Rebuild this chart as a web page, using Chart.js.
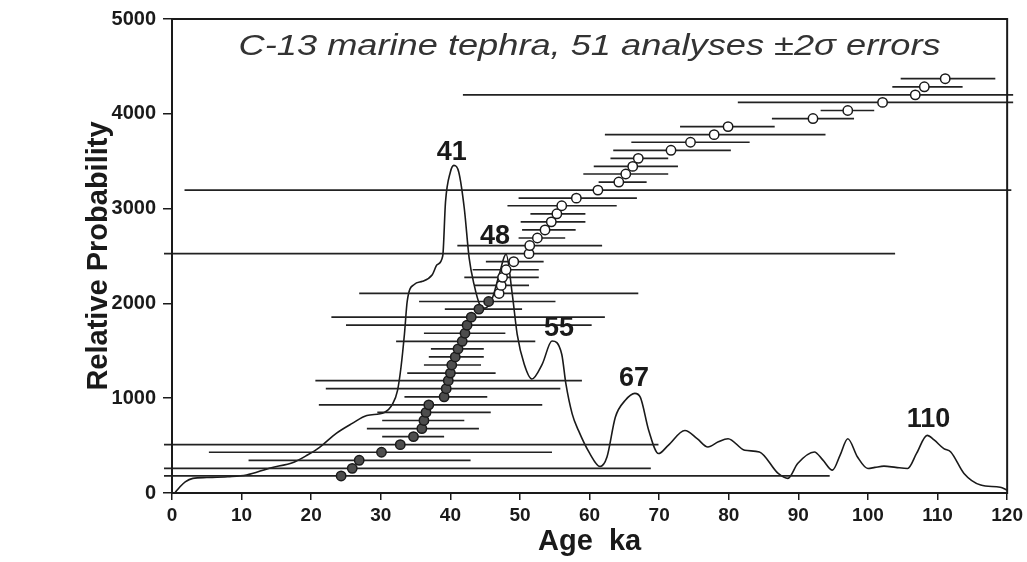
<!DOCTYPE html>
<html><head><meta charset="utf-8">
<script src="https://cdn.jsdelivr.net/npm/chart.js@4/dist/chart.umd.min.js"></script>
<style>html,body{margin:0;padding:0;background:#fff;}#wrap{width:1027px;height:562px;}</style>
</head><body><div id="wrap"><canvas id="c" width="1027" height="562"></canvas></div>
<script>
// ---- data ----
const ages = [24.3, 25.9, 26.9, 30.1, 32.8, 34.7, 35.9, 36.2, 36.5, 36.9, 39.1, 39.4, 39.7, 40.0, 40.2, 40.7, 41.1, 41.7, 42.1, 42.4, 43.0, 44.1, 45.5, 47.0, 47.3, 47.5, 48.0, 49.1, 51.3, 51.4, 52.5, 53.6, 54.5, 55.3, 56.0, 58.1, 61.2, 64.2, 65.2, 66.2, 67.0, 71.7, 74.5, 77.9, 79.9, 92.1, 97.1, 102.1, 106.8, 108.1, 111.1];
const rankProb = [180, 260, 345, 430, 510, 595, 680, 765, 850, 930, 1015, 1100, 1185, 1265, 1350, 1435, 1520, 1600, 1685, 1770, 1855, 1940, 2020, 2105, 2190, 2275, 2355, 2440, 2525, 2610, 2690, 2775, 2860, 2945, 3030, 3110, 3195, 3280, 3365, 3445, 3530, 3615, 3700, 3780, 3865, 3950, 4035, 4120, 4200, 4285, 4370];
const errLow = [-46, -17.0, 11.0, 5.3, -4.3, 30.2, 28.0, 30.2, 29.5, 21.1, 33.4, 22.1, 20.6, 33.8, 36.2, 36.9, 37.2, 32.2, 36.2, 25.0, 22.9, 39.2, 35.5, 26.9, 43.4, 42.0, 43.2, 45.1, -1.3, 41.0, 49.8, 50.3, 50.1, 51.5, 48.2, 49.8, 1.8, 61.3, 59.1, 60.6, 63.0, 63.4, 66.0, 62.2, 73.0, 86.2, 93.2, 81.3, 41.8, 103.5, 104.7];
const errHigh = [94.5, 68.8, 42.9, 54.6, 69.9, 39.1, 44.1, 42.0, 45.8, 53.2, 45.3, 55.8, 58.9, 46.5, 44.4, 44.8, 44.8, 52.2, 47.9, 60.3, 62.2, 50.3, 55.1, 67.0, 51.3, 52.7, 52.7, 53.4, 103.9, 61.8, 56.5, 58.0, 59.4, 59.4, 63.9, 66.8, 120.6, 68.2, 71.3, 72.7, 71.3, 80.3, 83.0, 93.9, 86.6, 98.0, 100.9, 122.9, 171.8, 113.6, 118.3];
const filledCount = 23;
const curveAge = [0.4, 1.15, 1.9, 3.0, 5, 8, 10.7, 14, 17.5, 19.4, 21.2, 23.6, 25.9, 28, 30.5, 31.7, 32.4, 32.9, 33.4, 33.8, 34.8, 36, 37.4, 38.1, 38.9, 39.3, 40, 40.5, 41.2, 42, 42.7, 43.4, 44.2, 45, 46, 47, 48, 48.9, 49.6, 50.6, 51.7, 53.2, 54.6, 56.0, 56.6, 57.5, 58.4, 60, 61.5, 62.5, 63.7, 65.1, 66.5, 67.3, 68.5, 69.9, 71.3, 73.7, 75.5, 77, 78.5, 79.9, 82.3, 84.4, 87.1, 88.5, 89.9, 92.3, 93.5, 94.9, 96, 97.1, 98.5, 100, 101, 102.3, 104, 105.7, 107, 108.5, 109.5, 110.9, 111.9, 113.8, 116.2, 119, 120];
const curveProb = [0, 66, 118, 154, 163, 172, 190, 262, 325, 398, 482, 629, 734, 818, 850, 940, 1080, 1324, 1677, 2023, 2200, 2233, 2303, 2408, 2500, 3071, 3386, 3456, 3386, 3001, 2477, 2200, 1990, 1950, 2050, 2300, 2520, 2093, 1674, 1360, 1202, 1360, 1604, 1464, 1150, 835, 660, 420, 280, 380, 800, 975, 1051, 1009, 660, 416, 503, 660, 570, 485, 540, 573, 451, 433, 206, 154, 311, 433, 350, 241, 400, 573, 380, 259, 270, 283, 270, 259, 420, 608, 560, 468, 433, 206, 84, 60, 30];
const peakText = ['41', '48', '55', '67', '110'];
const peakAge = [40.2, 46.4, 55.6, 66.4, 108.7];
const peakProb = [3512, 2631, 1656, 1132, 692];
const xTickValues = [0, 10, 20, 30, 40, 50, 60, 70, 80, 90, 100, 110, 120];
const yTickValues = [0, 1000, 2000, 3000, 4000, 5000];
const titleText = 'C-13 marine tephra, 51 analyses \u00b12\u03c3 errors';
const xTitleText = 'Age  ka';
const yTitleText = 'Relative Probability';

// ---- build datasets ----
const ink = '#1a1a1a';
const datasets = [];
datasets.push({
  label: 'filled', data: ages.slice(0, filledCount).map((a, i) => ({x: a, y: rankProb[i]})),
  pointRadius: 4.7, pointBackgroundColor: '#4d4d4d', pointBorderColor: ink, pointBorderWidth: 1.5, order: 0
});
datasets.push({
  label: 'open', data: ages.slice(filledCount).map((a, i) => ({x: a, y: rankProb[i + filledCount]})),
  pointRadius: 4.7, pointBackgroundColor: '#ffffff', pointBorderColor: ink, pointBorderWidth: 1.5, order: 0
});
ages.forEach((a, i) => {
  datasets.push({
    label: 'err' + i, data: [{x: errLow[i], y: rankProb[i]}, {x: errHigh[i], y: rankProb[i]}],
    showLine: true, pointRadius: 0, borderColor: '#222', borderWidth: 1.7,
    clip: {left: 8, right: 6, top: false, bottom: false}, order: 1
  });
});
datasets.push({
  label: 'curve', data: curveAge.map((a, i) => ({x: a, y: curveProb[i]})),
  showLine: true, pointRadius: 0, borderColor: ink, borderWidth: 1.6,
  cubicInterpolationMode: 'monotone', order: 2
});

const decor = {
  id: 'decor',
  afterDraw(chart) {
    const {ctx, chartArea: ca, scales: {x, y}} = chart;
    ctx.save();
    ctx.strokeStyle = ink; ctx.lineWidth = 2;
    ctx.strokeRect(ca.left, ca.top, ca.right - ca.left, ca.bottom - ca.top);
    // peak labels
    ctx.fillStyle = ink; ctx.textAlign = 'center'; ctx.textBaseline = 'alphabetic';
    ctx.font = 'bold 27px "Liberation Sans", Arial, sans-serif';
    peakText.forEach((t, i) => ctx.fillText(t, x.getPixelForValue(peakAge[i]), y.getPixelForValue(peakProb[i])));
    // title
    ctx.font = 'italic 29px "Liberation Sans", Arial, sans-serif';
    const w = ctx.measureText(titleText).width;
    ctx.translate((ca.left + ca.right) / 2, ca.top + 36);
    ctx.scale(702 / w, 1);
    ctx.fillStyle = '#333';
    ctx.fillText(titleText, 0, 0);
    ctx.restore();
  }
};

new Chart(document.getElementById('c'), {
  type: 'scatter',
  data: {datasets},
  options: {
    responsive: false, animation: false, devicePixelRatio: 1,
    layout: {padding: {top: 16, right: 19, left: 0, bottom: 0}},
    plugins: {legend: {display: false}, tooltip: {enabled: false}},
    scales: {
      x: {
        type: 'linear', min: 0, max: 120,
        afterBuildTicks: s => { s.ticks = xTickValues.map(v => ({value: v})); },
        afterFit: s => { s.height = 69; },
        grid: {drawOnChartArea: false, drawTicks: true, tickLength: 7, color: ink, lineWidth: 1.5},
        border: {display: true, color: ink, width: 2},
        ticks: {color: ink, padding: 4, maxRotation: 0, callback: v => String(v), font: {family: '"Liberation Sans Narrow", "Liberation Sans", Arial', size: 19, weight: 'bold'}},
        title: {display: true, text: xTitleText, color: ink, padding: {top: 0, bottom: 3}, font: {family: '"Liberation Sans", Arial', size: 29, weight: 'bold'}}
      },
      y: {
        type: 'linear', min: 0, max: 5000,
        afterBuildTicks: s => { s.ticks = yTickValues.map(v => ({value: v})); },
        afterFit: s => { s.width = 172; },
        grid: {drawOnChartArea: false, drawTicks: true, tickLength: 9, color: ink, lineWidth: 1.5},
        border: {display: true, color: ink, width: 2},
        ticks: {color: ink, padding: 7, callback: v => String(v), font: {family: '"Liberation Sans", Arial', size: 20, weight: 'bold'}},
        title: {display: true, text: yTitleText, color: ink, padding: {top: 82, bottom: 0}, font: {family: '"Liberation Sans", Arial', size: 29, weight: 'bold'}}
      }
    }
  },
  plugins: [decor]
});
</script></body></html>
